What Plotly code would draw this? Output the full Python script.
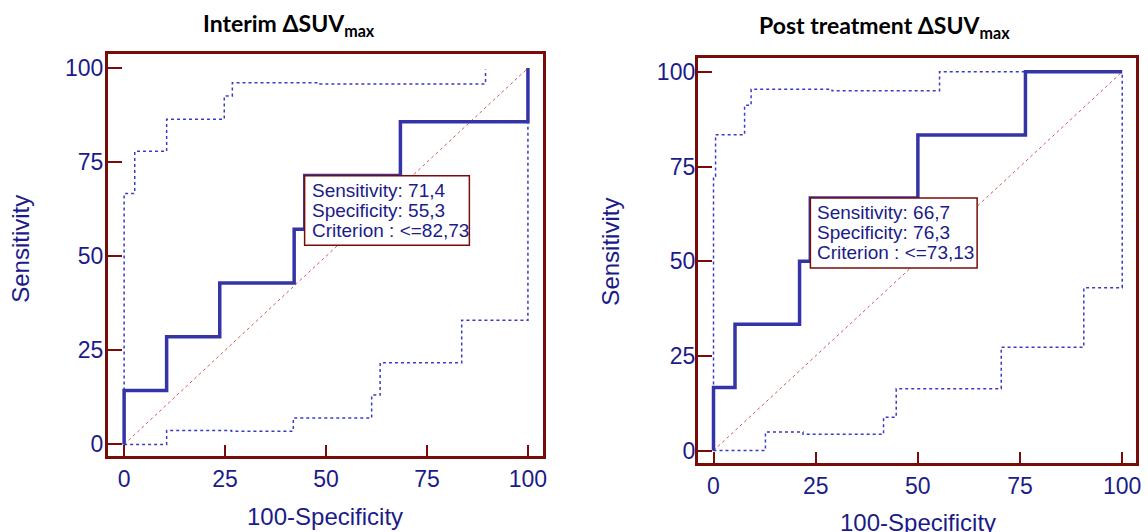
import plotly.graph_objects as go

# ---------------- data ----------------
# Interim ΔSUVmax  (x = 100-Specificity, y = Sensitivity), step vertices
int_roc_x = [0, 0, 10.53, 23.68, 42.11, 44.74, 68.42, 100, 100]
int_roc_y = [0, 14.29, 28.57, 42.86, 57.14, 71.43, 85.71, 85.71, 100]
int_up_x = [0, 0, 2.63, 10.53, 24.8, 26.8, 48.5, 89.5]
int_up_y = [0, 66.7, 77.9, 86.4, 92.6, 96.1, 95.8, 99.6]
int_lo_x = [0, 10.53, 26.6, 41.9, 61.3, 63.4, 83.6, 100]
int_lo_y = [0, 3.7, 3.5, 7.0, 13.1, 21.7, 33.0, 100]
int_sens, int_spec, int_crit = 71.4, 55.3, "<=82,73"

# Post treatment ΔSUVmax
post_roc_x = [0, 0, 5.26, 21.05, 23.68, 50.0, 76.32, 100]
post_roc_y = [0, 16.67, 33.33, 50.0, 66.67, 83.33, 100, 100]
post_up_x = [0, 0, 0.5, 7.6, 9.2, 29.0, 55.3, 100]
post_up_y = [0, 72.4, 83.4, 91.2, 95.4, 95.0, 100, 100]
post_lo_x = [0, 12.7, 21.9, 41.6, 44.7, 70.4, 90.6, 100]
post_lo_y = [0, 4.9, 4.3, 8.8, 16.3, 27.3, 43.0, 100]
post_sens, post_spec, post_crit = 66.7, 76.3, "<=73,13"

diag = [0, 100]
tick_vals = [0, 25, 50, 75, 100]
tick_text = ["0", "25", "50", "75", "100"]

# ---------------- style ----------------
FRAME = "#7a0b0b"
TEXT = "#1b1b8a"
ROC_C = "#3434a6"
CI_C = "#3a3ac8"
DIAG_C = "#cf5a5a"
FONT = "Liberation Sans, Arial, sans-serif"
W, H = 1148, 532
S = 1.005  # small layout scale correction

fig = go.Figure()

def add_panel(xa, ya, rx, ry, ux, uy, lx, ly):
    fig.add_trace(go.Scatter(x=diag, y=diag, mode="lines", xaxis=xa, yaxis=ya,
                             line=dict(color=DIAG_C, width=1, dash="dot"), hoverinfo="skip"))
    fig.add_trace(go.Scatter(x=ux, y=uy, mode="lines", line_shape="hv", xaxis=xa, yaxis=ya,
                             line=dict(color=CI_C, width=1.5, dash="dot")))
    fig.add_trace(go.Scatter(x=lx, y=ly, mode="lines", line_shape="hv", xaxis=xa, yaxis=ya,
                             line=dict(color=CI_C, width=1.5, dash="dot")))
    fig.add_trace(go.Scatter(x=rx, y=ry, mode="lines", line_shape="hv", xaxis=xa, yaxis=ya,
                             line=dict(color=ROC_C, width=3.5)))

add_panel("x", "y", int_roc_x, int_roc_y, int_up_x, int_up_y, int_lo_x, int_lo_y)
add_panel("x2", "y2", post_roc_x, post_roc_y, post_up_x, post_up_y, post_lo_x, post_lo_y)

def px_dom(a, b):
    return [a * S / W, min(b * S / W, 1.0)]

def py_dom(top, bottom):
    return [1 - bottom * S / H, 1 - top * S / H]

axis_common = dict(showgrid=False, zeroline=False, showline=True, linecolor=FRAME, linewidth=3,
                   mirror=True, ticks="inside", tickcolor=FRAME, tickwidth=2,
                   tickvals=tick_vals, ticktext=tick_text,
                   tickfont=dict(family=FONT, size=23, color=TEXT))

fig.update_layout(
    width=W, height=H, margin=dict(l=0, r=0, t=0, b=0), autosize=False,
    paper_bgcolor="white", plot_bgcolor="white", showlegend=False,
    xaxis=dict(domain=px_dom(108, 543), range=[-4.0, 103.7], ticklen=11, anchor="y", **axis_common),
    yaxis=dict(domain=py_dom(54, 455), range=[-3.2, 103.7], ticklen=14, anchor="x",
               ticklabelstandoff=-3, **axis_common),
    xaxis2=dict(domain=px_dom(698, 1136), range=[-3.84, 103.3], ticklen=11, anchor="y2", **axis_common),
    yaxis2=dict(domain=py_dom(58, 462), range=[-3.4, 103.6], ticklen=14, anchor="x2",
                ticklabelstandoff=-5, **axis_common),
)

# criterion boxes (anchored at the optimal criterion point)
BOX_W, BOX_H = 40.8, 18.5
for xr, yr, sens, spec, crit in [("x", "y", int_sens, int_spec, int_crit),
                                 ("x2", "y2", post_sens, post_spec, post_crit)]:
    x0 = 100 - spec
    y1 = sens
    fig.add_shape(type="rect", xref=xr, yref=yr, x0=x0, x1=x0 + BOX_W, y0=y1 - BOX_H, y1=y1,
                  line=dict(color=FRAME, width=1.5), fillcolor="white", layer="above")
    lines = [f"Sensitivity: {sens:.1f}".replace(".", ","),
             f"Specificity: {spec:.1f}".replace(".", ","),
             f"Criterion : {crit}"]
    for i, t in enumerate(lines):
        fig.add_annotation(x=x0, y=y1, xref=xr, yref=yr, text=t, showarrow=False,
                           xanchor="left", yanchor="middle", xshift=5, yshift=-15 - 20 * i,
                           font=dict(family=FONT, size=19, color=TEXT))

def paper(xp, yp):
    return xp * S / W, 1 - yp * S / H

# titles
for xp, yp, t in [(289, 24, "<b>Interim ΔSUV<sub>max</sub></b>"),
                  (885, 26, "<b>Post treatment ΔSUV<sub>max</sub></b>")]:
    px, py = paper(xp, yp)
    fig.add_annotation(x=px, y=py, xref="paper", yref="paper", showarrow=False,
                       text=t, xanchor="center", yanchor="middle",
                       font=dict(family="Lato, Open Sans, sans-serif", size=23, color="black"))

# axis titles
for xp, yp, t, ang in [(21, 248, "Sensitivity", -90), (611, 251, "Sensitivity", -90),
                       (325, 515, "100-Specificity", 0), (918, 521, "100-Specificity", 0)]:
    px, py = paper(xp, yp)
    fig.add_annotation(x=px, y=py, xref="paper", yref="paper", showarrow=False,
                       text=t, textangle=ang, xanchor="center", yanchor="middle",
                       font=dict(family=FONT, size=24, color=TEXT))

fig.write_html("out.html", config={"displayModeBar": False, "responsive": False},
               post_script="document.body.style.margin='0';document.body.style.overflow='hidden';")
